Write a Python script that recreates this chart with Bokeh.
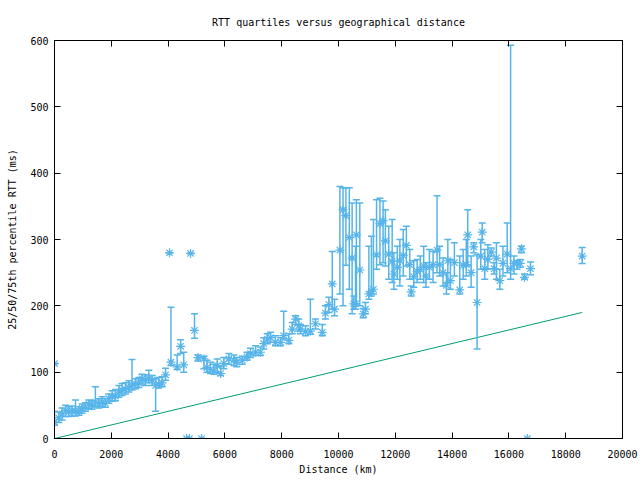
from bokeh.plotting import figure
from bokeh.models import ColumnDataSource, LinearAxis, FixedTicker, Range1d, CustomJSTickFormatter
from bokeh.embed import file_html
from bokeh.resources import INLINE

# ---- data (km, ms) ----
distance = [0, 0, 150, 270, 390, 500, 620, 740, 860, 970, 1090, 1210, 1320, 1440, 1560, 1680, 1790, 1910,
            2030, 2150, 2270, 2380, 2500, 2620, 2730, 2850, 2970, 3080, 3200, 3320, 3440, 3560, 3670, 3790,
            3910, 4050, 4100, 4320, 4440, 4550, 4650, 4750, 4790, 4930, 5050, 5180, 5260, 5370, 5490, 5610,
            5730, 5850, 5960, 6140, 6320, 6420, 6610, 6780, 6900, 7080, 7250, 7370, 7490, 7610, 7780, 7960,
            8070, 8250, 8370, 8490, 8600, 8660, 8840, 9010, 9190, 9430, 9540, 9660, 9780, 9860, 10050, 10160,
            10260, 10380, 10480, 10540, 10600, 10630, 10750, 10870, 10950, 11070, 11160, 11230, 11340, 11460,
            11570, 11650, 11770, 11890, 11950, 12070, 12160, 12280, 12390, 12510, 12560, 12650, 12770, 12880,
            13000, 13080, 13200, 13330, 13470, 13560, 13680, 13800, 13850, 13940, 14080, 14270, 14390, 14500,
            14550, 14670, 14760, 14880, 15010, 15060, 15150, 15260, 15380, 15480, 15560, 15680, 15790, 15940,
            16060, 16180, 16290, 16400, 16440, 16550, 16650, 16760, 18580]
rtt_q25 = [20, 113, 24, 28, 33, 33, 34, 34, 35, 38, 41, 45, 44, 48, 46, 48, 47, 53,
           56, 57, 62, 65, 67, 70, 73, 75, 77, 82, 80, 84, 80, 41, 76, 78,
           88, 280, 110, 104, 128, 100, 0, 0, 279, 151, 117, 0, 105, 100, 98, 97,
           100, 95, 105, 112, 110, 108, 112, 118, 122, 125, 125, 135, 143, 145, 140, 140,
           150, 143, 158, 172, 162, 158, 155, 157, 165, 155, 180, 190, 195, 185, 218, 200,
           261, 225, 188, 195, 195, 203, 200, 182, 188, 210, 215, 218, 255, 262,
           265, 260, 240, 235, 225, 240, 230, 245, 260, 240, 215, 228, 235, 240,
           235, 228, 240, 235, 250, 245, 230, 218, 235, 225, 245, 218, 240, 245,
           260, 228, 280, 135, 255, 295, 240, 255, 275, 248, 240, 225, 245, 250,
           240, 248, 255, 258, 280, 240, 0, 247, 264]
rtt_median = [25, 113, 31, 37, 42, 40, 42, 41, 41, 45, 47, 52, 50, 55, 52, 55, 53, 60,
              63, 64, 70, 73, 74, 77, 81, 82, 84, 90, 88, 91, 88, 80, 82, 84,
              96, 280, 115, 108, 139, 111, 0, 0, 279, 163, 122, 0, 120, 107, 104, 102,
              110, 98, 113, 120, 118, 115, 118, 123, 128, 130, 130, 143, 150, 152, 145, 145,
              155, 148, 165, 180, 170, 165, 161, 162, 173, 160, 189, 202, 233, 195, 284, 345,
              336, 303, 272, 203, 203, 307, 254, 188, 195, 218, 222, 225, 277, 324,
              328, 298, 278, 267, 248, 258, 268, 276, 291, 262, 221, 244, 252, 255,
              260, 245, 258, 262, 284, 262, 250, 231, 268, 238, 265, 224, 261, 262,
              307, 250, 289, 205, 275, 311, 256, 270, 281, 256, 272, 238, 264, 278,
              256, 264, 264, 264, 286, 243, 0, 256, 275]
rtt_q75 = [41, 113, 40, 46, 50, 48, 49, 58, 48, 52, 54, 58, 57, 78, 60, 63, 60, 67,
           72, 74, 80, 83, 84, 87, 119, 90, 92, 97, 96, 103, 95, 90, 92, 93,
           106, 280, 198, 126, 149, 130, 0, 0, 279, 188, 126, 0, 124, 118, 115, 112,
           120, 108, 122, 128, 126, 122, 124, 130, 136, 140, 138, 152, 158, 160, 155, 152,
           192, 158, 175, 185, 180, 172, 170, 210, 180, 172, 200, 213, 282, 210, 380, 378,
           378, 378, 355, 215, 290, 360, 355, 196, 205, 290, 305, 330, 360, 362,
           358, 345, 320, 330, 280, 290, 300, 315, 320, 285, 230, 268, 270, 275,
           290, 265, 285, 282, 366, 290, 272, 250, 300, 270, 295, 275, 285, 300,
           345, 275, 295, 277, 300, 325, 285, 292, 287, 265, 295, 255, 290, 325,
           593, 275, 268, 270, 290, 248, 0, 266, 288]

# speed-of-light bound line
bound_distance = [0, 18580]
bound_rtt = [0, 190]

x_ticks = [0, 2000, 4000, 6000, 8000, 10000, 12000, 14000, 16000, 18000, 20000]
y_ticks = [0, 100, 200, 300, 400, 500, 600]

BLUE = "#56B4E9"
GREEN = "#009E73"
FONT = "DejaVu Sans Mono"

src = ColumnDataSource(dict(d=distance, lo=rtt_q25, med=rtt_median, hi=rtt_q75))

p = figure(width=640, height=480, output_backend="svg", toolbar_location=None,
           x_range=Range1d(0, 20000), y_range=Range1d(0, 600),
           title="RTT quartiles versus geographical distance",
           min_border_left=54, min_border_right=18, min_border_top=40, min_border_bottom=42)
p.background_fill_color = "white"
p.border_fill_color = "white"
p.outline_line_color = "black"
p.outline_line_width = 1
p.xgrid.visible = False
p.ygrid.visible = False

p.title.align = "center"
p.title.text_font = FONT
p.title.text_font_size = "10px"
p.title.text_font_style = "normal"
p.title.text_color = "black"
p.title.standoff = 26

for ax, ticks in ((p.xaxis[0], x_ticks), (p.yaxis[0], y_ticks)):
    ax.ticker = FixedTicker(ticks=ticks)
    ax.major_tick_in = 6
    ax.major_tick_out = 0
    ax.minor_tick_line_color = None
    ax.major_label_text_font = FONT
    ax.major_label_text_font_size = "10px"
    ax.major_label_text_color = "black"
    ax.axis_label_text_font = FONT
    ax.axis_label_text_font_size = "10px"
    ax.axis_label_text_font_style = "normal"
    ax.axis_label_text_color = "black"
    ax.axis_line_color = "black"
    ax.major_tick_line_color = "black"

p.xaxis.major_label_standoff = 11
p.yaxis.major_label_standoff = 6
p.xaxis.axis_label = "Distance (km)"
p.yaxis.axis_label = "25/50/75th percentile RTT (ms)"
p.xaxis.axis_label_standoff = 3
p.yaxis.axis_label_standoff = 9

for loc, ticks in (("right", y_ticks), ("above", x_ticks)):
    ax = LinearAxis(ticker=FixedTicker(ticks=ticks),
                    formatter=CustomJSTickFormatter(code="return ''"))
    ax.major_tick_in = 6
    ax.major_tick_out = 0
    ax.minor_tick_line_color = None
    ax.major_label_standoff = 0
    ax.axis_line_color = "black"
    ax.major_tick_line_color = "black"
    p.add_layout(ax, loc)

p.line(bound_distance, bound_rtt, line_color=GREEN, line_width=1)
p.segment(x0="d", y0="lo", x1="d", y1="hi", source=src, line_color=BLUE, line_width=1.5)
p.scatter("d", "lo", source=src, marker="dash", size=7, line_color=BLUE, line_width=1.5)
p.scatter("d", "hi", source=src, marker="dash", size=7, line_color=BLUE, line_width=1.5)
p.scatter("d", "med", source=src, marker="asterisk", size=9, line_color=BLUE, line_width=1.2)

open("out.html", "w").write(file_html(p, INLINE))
